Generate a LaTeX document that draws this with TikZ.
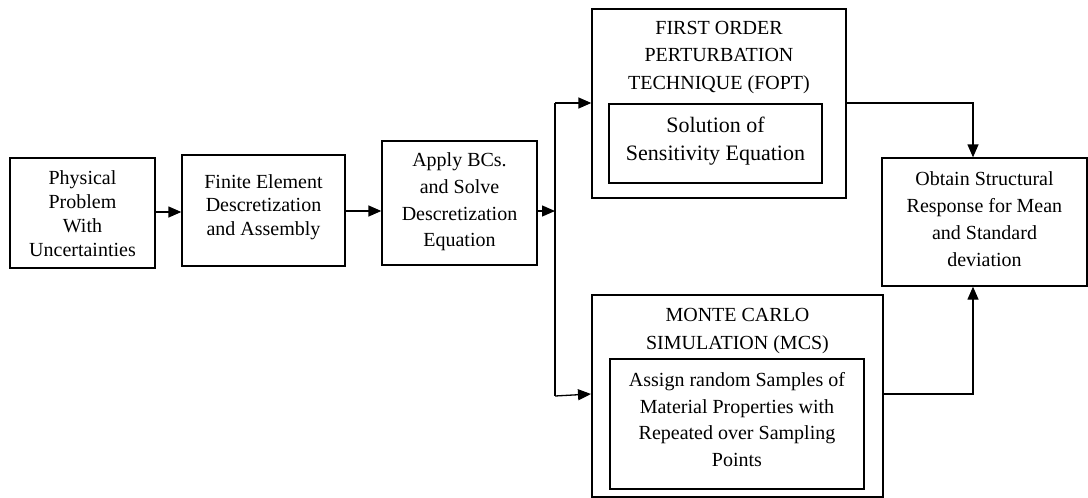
\documentclass[tikz,border=0pt]{standalone}
\usepackage{fontspec}
\setmainfont{Liberation Serif}
\usetikzlibrary{arrows.meta}
\begin{document}
\begin{tikzpicture}[x=1pt,y=-1pt,
  box/.style={draw,line width=1.3pt,inner sep=0pt},
  txt/.style={align=center,inner sep=0pt,font=\fontsize{20}{27}\selectfont},
  arr/.style={line width=1.3pt,-{Triangle[length=13pt,width=11pt]}},
  ln/.style={line width=1.3pt}]
\useasboundingbox (0,0) rectangle (1088,498);
% boxes
\node[box,minimum width=145pt,minimum height=110pt] (b1) at (82.5,213) {};
\node[box,minimum width=163pt,minimum height=111pt] (b2) at (263.5,210.5) {};
\node[box,minimum width=155pt,minimum height=124pt] (b3) at (459.5,203) {};
\node[box,minimum width=254pt,minimum height=189pt] (fopt) at (719,103.5) {};
\node[box,minimum width=213pt,minimum height=79pt] (fopti) at (715.5,143.5) {};
\node[box,minimum width=291pt,minimum height=202pt] (mcs) at (737.5,396) {};
\node[box,minimum width=254pt,minimum height=130pt] (mcsi) at (737,424) {};
\node[box,minimum width=205pt,minimum height=128pt] (obt) at (984.5,222) {};
% texts
\node[txt,font=\fontsize{20}{24}\selectfont] (t1) at (82.5,214) {Physical\\Problem\\With\\Uncertainties};
\node[txt,font=\fontsize{20}{23.5}\selectfont] (t2) at (263.5,207) {Finite Element\\Descretization\\and Assembly};
\node[txt,font=\fontsize{20}{26.7}\selectfont] (t3) at (459.5,202) {Apply BCs.\\and Solve\\Descretization\\Equation};
\node[txt,font=\fontsize{20}{27.5}\selectfont] (tf) at (719,57.5) {FIRST ORDER\\PERTURBATION\\TECHNIQUE (FOPT)};
\node[txt,font=\fontsize{22}{28}\selectfont] (tfi) at (715.5,141) {Solution of\\Sensitivity Equation};
\node[txt,font=\fontsize{20}{28}\selectfont] (tm) at (737.5,331) {MONTE CARLO\\SIMULATION (MCS)};
\node[txt,font=\fontsize{20}{26.5}\selectfont] (tmi) at (737,419.5) {Assign random Samples of\\Material Properties with\\Repeated over Sampling\\Points};
\node[txt,font=\fontsize{20}{27}\selectfont] (to) at (984.5,219.5) {Obtain Structural\\Response for Mean\\and Standard\\deviation};
% connector coordinates
\coordinate (jmid) at (555,211);
\coordinate (jtop) at (555,103);
\coordinate (jbot) at (555,396);
\coordinate (mcsin) at (591,394);
\coordinate (ox) at (973,0);
% connectors
\draw[arr] (b1.east |- 0,212) -- (b2.west |- 0,212);
\draw[arr] (b2.east |- 0,211) -- (b3.west |- 0,211);
\draw[arr] (b3.east |- jmid) -- (jmid);
\draw[ln] (jtop) -- (jbot);
\draw[arr] (jtop) -- (fopt.west |- jtop);
\draw[arr] (jbot) -- (mcsin);
\draw[arr] (fopt.east |- jtop) -| (ox |- obt.north);
\draw[arr] (mcs.east |- mcsin) -| (ox |- obt.south);
\end{tikzpicture}
\end{document}
